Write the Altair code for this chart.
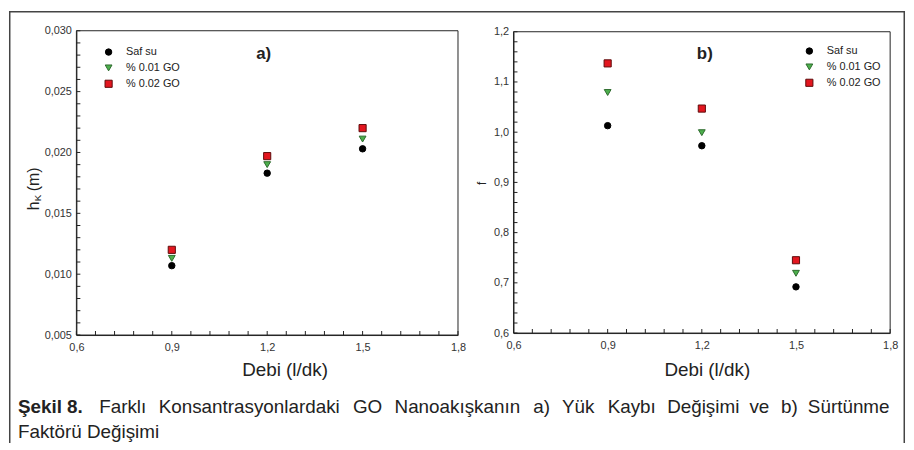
import altair as alt
import pandas as pd

# ---------------- data ----------------
flow = [0.9, 1.2, 1.5]
series_names = ["Saf su", "% 0.01 GO", "% 0.02 GO"]

hk_saf = [0.0107, 0.0183, 0.0203]
hk_go01 = [0.0113, 0.0190, 0.0211]
hk_go02 = [0.0120, 0.0197, 0.0220]

f_saf = [1.013, 0.973, 0.692]
f_go01 = [1.079, 0.999, 0.719]
f_go02 = [1.137, 1.047, 0.745]

x_domain = [0.6, 1.8]
hk_domain = [0.005, 0.030]
f_domain = [0.6, 1.2]

x_labels = [0.6, 0.9, 1.2, 1.5, 1.8]
hk_labels = [0.005, 0.010, 0.015, 0.020, 0.025, 0.030]
f_labels = [0.6, 0.7, 0.8, 0.9, 1.0, 1.1, 1.2]

x_minor = [round(0.6 + 0.06 * k, 2) for k in range(21)]
hk_minor = [round(0.005 + 0.001 * k, 3) for k in range(26)]
f_minor = [round(0.6 + 0.02 * k, 2) for k in range(31)]

caption_bold = "Şekil 8."
caption_line1 = ["Farklı", "Konsantrasyonlardaki", "GO", "Nanoakışkanın", "a)", "Yük",
                 "Kaybı", "Değişimi", "ve", "b)", "Sürtünme"]
caption_line2 = "Faktörü Değişimi"

# ---------------- layout ----------------
W, H = 904, 436
FONT = "Liberation Sans"
INK = "#222222"
LBL = "#333333"

shape_scale = alt.Scale(domain=series_names, range=["circle", "triangle-down", "square"])
fill_scale = alt.Scale(domain=series_names, range=["#000000", "#4caf4c", "#e3161f"])
stroke_scale = alt.Scale(domain=series_names, range=["#000000", "#2e6a2e", "#5e0b0b"])
size_scale = alt.Scale(domain=series_names, range=[42, 52, 46])


def long_df(vals):
    rows = []
    for name, ys in zip(series_names, vals):
        for x, y in zip(flow, ys):
            rows.append({"flow": x, "val": y, "series": name})
    return pd.DataFrame(rows)


def make_panel(vals, ydom, ylabels, yminor, yfmt, xrange, yrange, legend_xy, title_x, title_y):
    xs = alt.Scale(domain=x_domain, range=xrange, nice=False, zero=False)
    ys = alt.Scale(domain=ydom, range=yrange, nice=False, zero=False)
    x_axis = alt.Axis(
        orient="bottom", offset=yrange[0] - H, values=x_labels,
        labelExpr="replace(format(datum.value, '.1f'), '.', ',')",
        ticks=False, tickSize=0, grid=False, domainColor=INK, domainWidth=1,
        labelFont=FONT, labelFontSize=11, labelColor=LBL, labelPadding=7,
        labelFlush=False, labelOverlap=False,
        title="Debi (l/dk)", titleX=title_x, titleY=title_y, titleAlign="center",
        titleBaseline="alphabetic", titleFont=FONT, titleFontSize=19,
        titleFontWeight="normal", titleColor=INK,
    )
    y_axis = alt.Axis(
        orient="left", offset=-xrange[0], values=ylabels,
        labelExpr="replace(format(datum.value, '%s'), '.', ',')" % yfmt,
        ticks=False, tickSize=0, grid=False, domainColor=INK, domainWidth=1,
        labelFont=FONT, labelFontSize=11, labelColor=LBL, labelPadding=5,
        labelFlush=False, labelOverlap=False, title=None,
    )

    frame_df = pd.DataFrame({"x0": [x_domain[0]], "x1": [x_domain[1]],
                             "y0": [ydom[0]], "y1": [ydom[1]]})
    frame = alt.Chart(frame_df).mark_rect(fillOpacity=0, stroke=INK, strokeWidth=1).encode(
        x=alt.X("x0:Q", scale=xs, axis=x_axis),
        x2="x1:Q",
        y=alt.Y("y0:Q", scale=ys, axis=y_axis),
        y2="y1:Q",
    )

    xt_df = pd.DataFrame({"v": x_minor, "base": [ydom[0]] * len(x_minor)})
    xticks = alt.Chart(xt_df).mark_tick(orient="vertical", size=4, thickness=1, color=INK,
                                        yOffset=-2, opacity=1).encode(
        x=alt.X("v:Q", scale=xs, axis=x_axis),
        y=alt.Y("base:Q", scale=ys, axis=y_axis),
    )
    yt_df = pd.DataFrame({"v": yminor, "base": [x_domain[0]] * len(yminor)})
    yticks = alt.Chart(yt_df).mark_tick(orient="horizontal", size=4, thickness=1, color=INK,
                                        xOffset=2, opacity=1).encode(
        x=alt.X("base:Q", scale=xs, axis=x_axis),
        y=alt.Y("v:Q", scale=ys, axis=y_axis),
    )

    legend = alt.Legend(
        title=None, orient="none", legendX=legend_xy[0], legendY=legend_xy[1],
        labelFont=FONT, labelFontSize=11, labelColor=INK,
        symbolStrokeWidth=1, labelOffset=12, rowPadding=4, padding=0,
    )
    pts = alt.Chart(long_df(vals)).mark_point(filled=True, strokeWidth=1, opacity=1).encode(
        x=alt.X("flow:Q", scale=xs, axis=x_axis),
        y=alt.Y("val:Q", scale=ys, axis=y_axis),
        shape=alt.Shape("series:N", scale=shape_scale, legend=legend),
        fill=alt.Fill("series:N", scale=fill_scale, legend=legend),
        stroke=alt.Stroke("series:N", scale=stroke_scale, legend=legend),
        size=alt.Size("series:N", scale=size_scale, legend=legend),
    )
    return alt.layer(frame, xticks, yticks, pts)


panel_a = make_panel([hk_saf, hk_go01, hk_go02], hk_domain, hk_labels, hk_minor, ".3f",
                     [68, 453], [327, 20], (95, 36), 278, 41)
panel_b = make_panel([f_saf, f_go01, f_go02], f_domain, f_labels, f_minor, ".1f",
                     [509, 889], [325, 21], (802, 35), 704, 43)


def label(text, x, y, size, weight="normal", angle=0, align="left", baseline="alphabetic"):
    return alt.Chart().mark_text(
        text=text, font=FONT, fontSize=size, fontWeight=weight, angle=angle,
        align=align, baseline=baseline, color=INK,
    ).encode(x=alt.value(x), y=alt.value(y))


# word starts of the justified caption line (page x minus 8)
line1_x = [91, 151, 347, 389, 529, 558, 604, 664, 747, 779, 806]

annots = [
    label("a)", 257, 43, 17, "bold", align="center", baseline="middle"),
    label("b)", 702, 44, 17, "bold", align="center", baseline="middle"),
    label("h", 30, 201, 16, angle=270),
    label("K", 32, 192, 10, angle=270),
    label("(m)", 30, 182, 16, angle=270),
    label("f", 477, 174, 12, angle=270, align="center", baseline="middle"),
    label(caption_bold, 9, 406, 19, "bold"),
    label(caption_line2, 9, 431, 19),
] + [label(w, x, 406, 19) for w, x in zip(caption_line1, line1_x)]

border = [
    alt.Chart().mark_rule(color="#444444", strokeWidth=1.5).encode(
        x=alt.value(0.75), y=alt.value(0), y2=alt.value(H)),
    alt.Chart().mark_rule(color="#444444", strokeWidth=1.5).encode(
        x=alt.value(0), x2=alt.value(W), y=alt.value(0.75)),
    alt.Chart().mark_rule(color="#444444", strokeWidth=1.5).encode(
        x=alt.value(W - 0.75), y=alt.value(0), y2=alt.value(H)),
]

chart = alt.layer(panel_a, panel_b, *annots, *border).resolve_scale(
    x="independent", y="independent", shape="independent",
    fill="independent", stroke="independent", size="independent",
).resolve_axis(x="independent", y="independent").resolve_legend(
    shape="independent", fill="independent", stroke="independent", size="independent",
).properties(width=W, height=H, padding=0, background="white").configure_view(
    stroke="transparent"
)

chart.save("out.html", embed_options={"renderer": "svg", "actions": False})
